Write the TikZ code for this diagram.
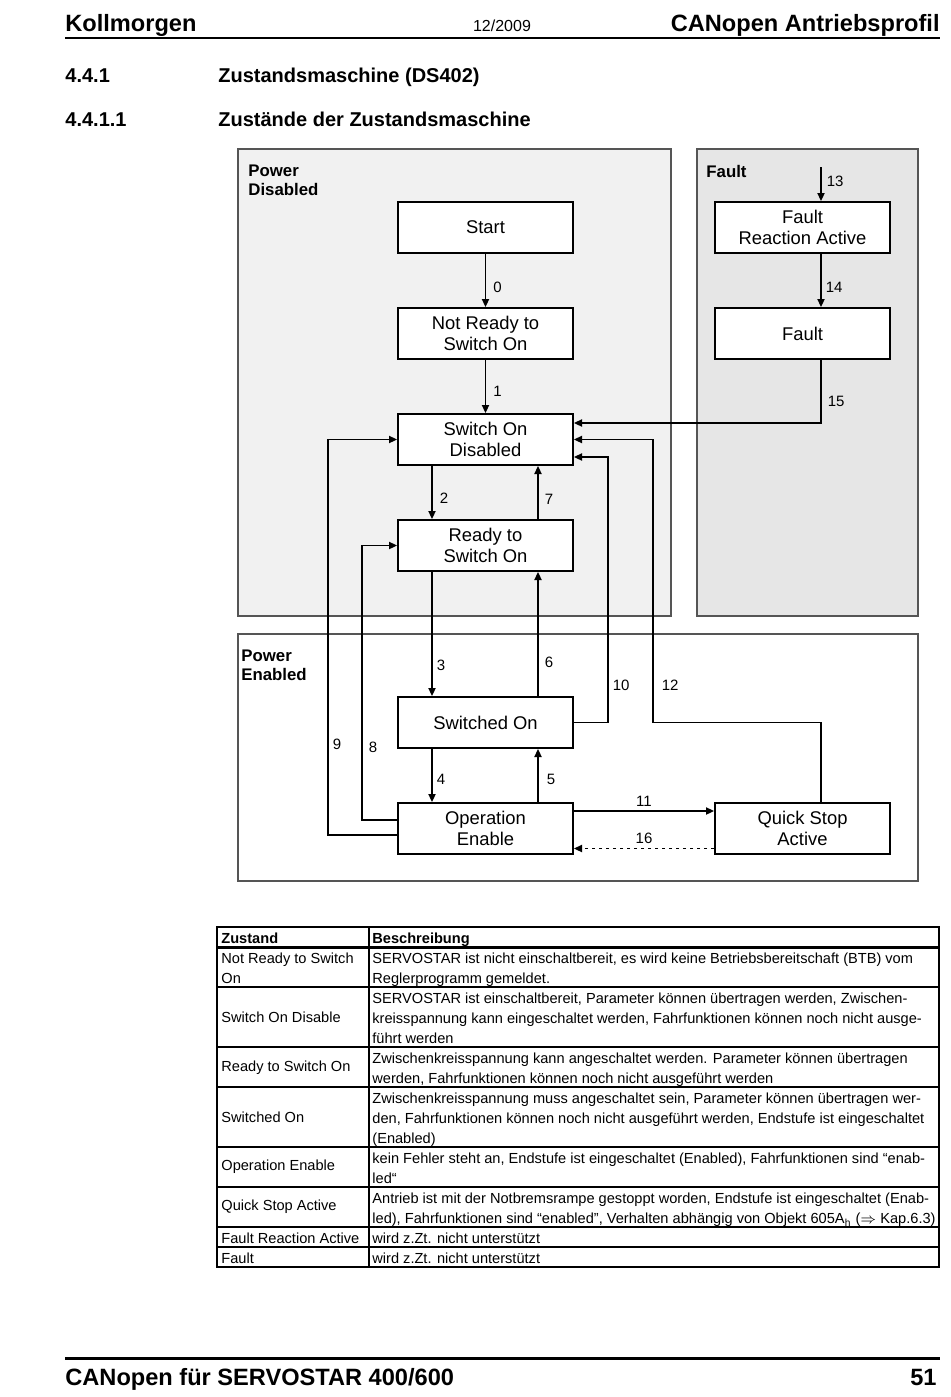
\documentclass[tikz,border=0pt]{standalone}
\usepackage{fontspec}
\setmainfont{Liberation Sans}
\usetikzlibrary{arrows.meta, positioning}
\definecolor{rgLine}{HTML}{555555}
\definecolor{rgOff}{HTML}{F1F1F1}
\definecolor{rgFault}{HTML}{E6E6E6}

\begin{document}
\begin{tikzpicture}[x=0.5pt, y=-0.5pt,
  st/.style={draw, line width=1pt, fill=white, minimum width=87.5pt,
             minimum height=25.5pt, align=center, inner sep=1pt,
             font=\fontsize{9.2}{10.5}\selectfont},
  reg/.style={draw=rgLine, line width=0.7pt},
  rlbl/.style={anchor=north west, inner sep=0pt, align=left,
               font=\bfseries\fontsize{8.4}{9.5}\selectfont},
  arr/.style={-{Triangle[length=4pt, width=3.6pt]}, line width=0.75pt},
  num/.style={font=\fontsize{7.5}{9}\selectfont, inner sep=1pt},
  big/.style={inner sep=0pt, font=\bfseries\fontsize{11.8}{14}\selectfont},
  sec/.style={anchor=base west, inner sep=0pt, font=\bfseries\fontsize{10}{12}\selectfont},
  cell/.style={anchor=north west, inner sep=0pt, align=left,
               font=\fontsize{7.3}{10}\selectfont},
  mcell/.style={cell, anchor=west},
  tl/.style={line width=0.55pt}]
  \useasboundingbox (0,0) rectangle (950,1397);

  % page head
  \node[big, anchor=base west] (firm) at (65,32) {Kollmorgen};
  \node[inner sep=0pt, anchor=base, font=\fontsize{8}{10}\selectfont] (hdate) at (502,32) {12/2009};
  \node[big, anchor=base east] (topic) at (940,32) {CANopen Antriebsprofil};
  \draw[line width=1.25pt] (65,38) -- (940,38);
  \node[sec] (s1) at (65,82) {4.4.1};
  \node[sec] (s1t) at (218,82) {Zustandsmaschine (DS402)};
  \node[sec] (s2) at (65,126) {4.4.1.1};
  \node[sec] (s2t) at (218,126) {Zustände der Zustandsmaschine};

  % regions
  \draw[reg, fill=rgOff] (238,149) rectangle (671,616);
  \draw[reg, fill=rgFault] (697,149) rectangle (918,616);
  \draw[reg, fill=white] (238,634) rectangle (918,881);
  \node[rlbl] (pdis) at (248,165) {Power\\Disabled};
  \node[rlbl] (flbl) at (706,165) {Fault};
  \node[rlbl] (pen) at (241,650) {Power\\Enabled};

  % states
  \node[st] (start) at (485.5,227.5) {Start};
  \node[st, below=26.5pt of start] (nrdy) {Not Ready to\\Switch On};
  \node[st, below=26.5pt of nrdy] (sod) {Switch On\\Disabled};
  \node[st, below=26.5pt of sod] (rtso) {Ready to\\Switch On};
  \node[st, below=62pt of rtso] (swon) {Switched On};
  \node[st, below=26.5pt of swon] (opn) {Operation\\Enable};
  \node[st] (flr) at (802.5,227.5) {Fault\\Reaction Active};
  \node[st, below=26.5pt of flr] (flt) {Fault};
  \node[st] (qsa) at (802.5,828.5) {Quick Stop\\Active};
  \coordinate (fin) at (821,167);

  % transitions
  \draw[arr] (start) -- node[num, right=2.5pt, pos=.62] {0} (nrdy);
  \draw[arr] (nrdy) -- node[num, right=2.5pt, pos=.6] {1} (sod);
  \draw[arr] ([xshift=-26.75pt]sod.south) -- node[num, right=2.5pt, pos=.6] {2}
    ([xshift=-26.75pt]rtso.north);
  \draw[arr] ([xshift=-26.75pt]rtso.south) -- node[num, right=1pt, pos=.75] {3}
    ([xshift=-26.75pt]swon.north);
  \draw[arr] ([xshift=-26.75pt]swon.south) -- node[num, right=1pt, pos=.58] {4}
    ([xshift=-26.75pt]opn.north);
  \draw[arr] ([xshift=26.25pt]opn.north) -- node[num, right=3pt, pos=.43] {5}
    ([xshift=26.25pt]swon.south);
  \draw[arr] ([xshift=26.25pt]swon.north) -- node[num, right=2pt, pos=.27] {6}
    ([xshift=26.25pt]rtso.south);
  \draw[arr] ([xshift=26.25pt]rtso.north) -- node[num, right=2pt, pos=.38] {7}
    ([xshift=26.25pt]sod.south);
  \draw[arr] ([yshift=4.25pt]opn.west) -- ++(-35,0) |- node[num, right=2pt, pos=.133] {8}
    (rtso.west);
  \draw[arr] ([yshift=-3.25pt]opn.west) -- ++(-69,0) |- node[num, right=1pt, pos=.115] {9}
    (sod.west);
  \draw[arr] (swon.east) -- ++(34,0) |- node[num, right=1pt, pos=.07] {10}
    ([yshift=-8.75pt]sod.east);
  \draw[arr] ([yshift=8.75pt]opn.east) -- node[num, above=1pt] {11}
    ([yshift=8.75pt]qsa.west);
  \draw[arr] ([xshift=9.25pt]qsa.north) |- (653,722.5) |- node[num, right=3pt, pos=.065] {12}
    (sod.east);
  \draw[arr] (fin) -- node[num, right=1.5pt, pos=.41] {13} ([xshift=9.25pt]flr.north);
  \draw[arr] ([xshift=9.25pt]flr.south) -- node[num, right=1pt, pos=.62] {14}
    ([xshift=9.25pt]flt.north);
  \draw[arr] ([xshift=9.25pt]flt.south) |- node[num, right=2pt, pos=.33] {15}
    ([yshift=8.25pt]sod.east);
  \draw[arr, dash pattern=on 1.5pt off 2pt] ([yshift=-10pt]qsa.west) --
    node[num, above=1pt] {16} ([yshift=-10pt]opn.east);

  % table
  \draw[tl] (217,927) rectangle (939,1267);
  \draw[tl] (369,927) -- (369,1267);
  \draw[line width=1.5pt] (217,947) -- (939,947);
  \foreach \y in {987,1047,1087,1147,1187,1227,1247}
    \draw[tl] (217,\y) -- (939,\y);
  \node[cell, font=\bfseries\fontsize{7.3}{10}\selectfont] (th1) at (221,933) {Zustand};
  \node[cell, font=\bfseries\fontsize{7.3}{10}\selectfont] (th2) at (372,933) {Beschreibung};
  \node[cell] (z1) at (221,953) {Not Ready to Switch\\On};
  \node[cell] (d1) at (372,953) {SERVOSTAR ist nicht einschaltbereit, es wird keine Betriebsbereitschaft (BTB) vom\\Reglerprogramm gemeldet.};
  \node[mcell] (z2) at (221,1017) {Switch On Disable};
  \node[cell] (d2) at (372,993) {SERVOSTAR ist einschaltbereit, Parameter können übertragen werden, Zwischen-\\kreisspannung kann eingeschaltet werden, Fahrfunktionen können noch nicht ausge-\\führt werden};
  \node[mcell] (z3) at (221,1068) {Ready to Switch On};
  \node[cell] (d3) at (372,1053) {Zwischenkreisspannung kann angeschaltet werden. Parameter können übertragen\\werden, Fahrfunktionen können noch nicht ausgeführt werden};
  \node[mcell] (z4) at (221,1117) {Switched On};
  \node[cell] (d4) at (372,1093) {Zwischenkreisspannung muss angeschaltet sein, Parameter können übertragen wer-\\den, Fahrfunktionen können noch nicht ausgeführt werden, Endstufe ist eingeschaltet\\(Enabled)};
  \node[mcell] (z5) at (221,1167) {Operation Enable};
  \node[cell] (d5) at (372,1153) {kein Fehler steht an, Endstufe ist eingeschaltet (Enabled), Fahrfunktionen sind “enab-\\led“};
  \node[mcell] (z6) at (221,1207) {Quick Stop Active};
  \node[cell] (d6) at (372,1193) {Antrieb ist mit der Notbremsrampe gestoppt worden, Endstufe ist eingeschaltet (Enab-\\led), Fahrfunktionen sind “enabled”, Verhalten abhängig von Objekt 605A\textsubscript{h} ($\Rightarrow$ Kap.6.3)};
  \node[cell] (z7) at (221,1233) {Fault Reaction Active};
  \node[cell] (d7) at (372,1233) {wird z.Zt. nicht unterstützt};
  \node[cell] (z8) at (221,1253) {Fault};
  \node[cell] (d8) at (372,1253) {wird z.Zt. nicht unterstützt};

  % page foot
  \draw[line width=1.5pt] (65,1358) -- (940,1358);
  \node[big, anchor=base west] (foot) at (65,1385) {CANopen für SERVOSTAR 400/600};
  \node[big, anchor=base east] (pgno) at (937,1385) {51};
\end{tikzpicture}
\end{document}
